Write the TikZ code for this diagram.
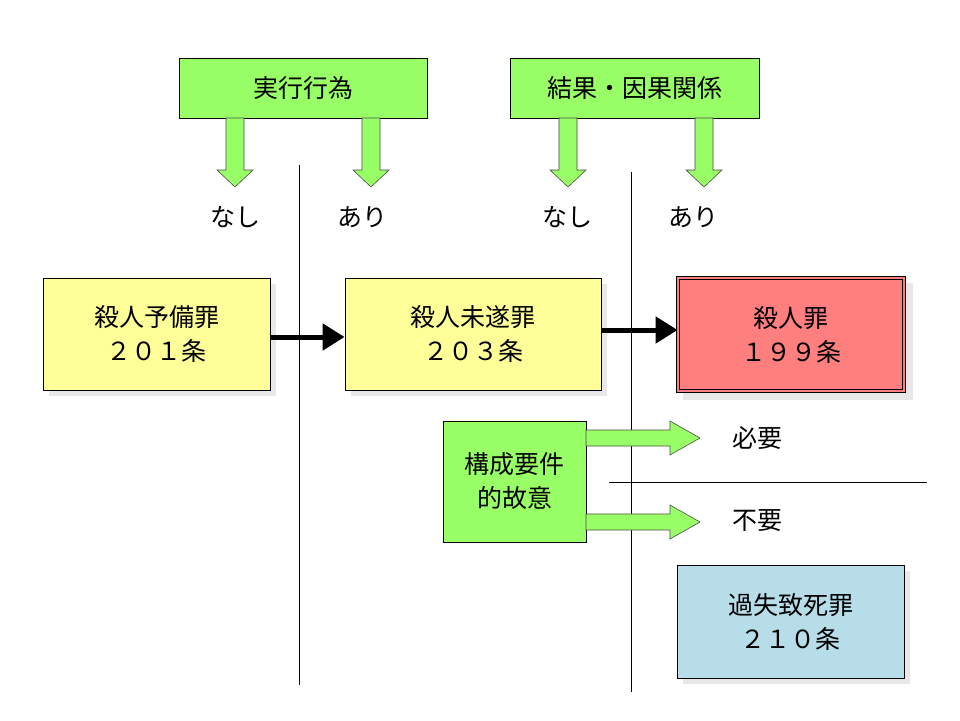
\documentclass[tikz,border=0pt]{standalone}
\usepackage{fontspec}
\setmainfont{Noto Sans CJK JP}
\usetikzlibrary{shapes.arrows,arrows.meta}
\definecolor{gr}{HTML}{99FF66}
\definecolor{ye}{HTML}{FFFF99}
\definecolor{rd}{HTML}{FF7F7F}
\definecolor{bl}{HTML}{B7DDE8}
\definecolor{sh}{HTML}{E8E8E8}
\begin{document}
\begin{tikzpicture}[x=1pt,y=-1pt,
 box/.style={draw=black,line width=0.8pt,align=center,font=\fontsize{25}{34}\selectfont},
 lbl/.style={font=\fontsize{25}{30}\selectfont},
 blk/.style={draw=black!70,fill=gr,line width=0.6pt},
 vl/.style={line width=0.7pt}]
\useasboundingbox (0,0) rectangle (960,720);
\fill[white] (0,0) rectangle (960,720);
% shadows
\fill[sh] (49,284) rectangle (276,396);
\fill[sh] (351,284) rectangle (607,396);
\fill[sh] (683,283) rectangle (913,400);
\fill[sh] (683,571) rectangle (910,684);
% top boxes
\node[box,fill=gr,minimum width=248pt,minimum height=60pt] (a) at (303,88) {実行行為};
\node[box,fill=gr,minimum width=249pt,minimum height=60pt] (b) at (634.5,88) {結果・因果関係};
% down arrows
\foreach \x/\n in {235/d1,371/d2,568/d3,704/d4}{
 \draw[blk] (\x-9,118) -- (\x+9,118) -- (\x+9,170) -- (\x+18,170) -- (\x,187) -- (\x-18,170) -- (\x-9,170) -- cycle;
}
\node[lbl] (n1) at (235,217) {なし};
\node[lbl] (n2) at (362,217) {あり};
\node[lbl] (n3) at (567,217) {なし};
\node[lbl] (n4) at (693,217) {あり};
% vertical lines
\coordinate (v1a) at (299,165); \coordinate (v1b) at (299,685);
\coordinate (v2a) at (631,172); \coordinate (v2b) at (631,692);
\draw[vl] (v1a) -- (v1b);
\draw[vl] (v2a) -- (v2b);
% main boxes
\node[box,fill=ye,minimum width=227pt,minimum height=112pt] (p) at (156.5,334) {殺人予備罪\\２０１条};
\node[box,fill=ye,minimum width=256pt,minimum height=112pt] (q) at (473,334) {殺人未遂罪\\２０３条};
\node[box,fill=rd,double=rd,double distance=2.5pt,line width=0.9pt,minimum width=226pt,minimum height=113pt] (r) at (791,334.5) {殺人罪\\１９９条};
\draw[line width=5pt,-{Triangle[length=22pt,width=26pt]}] (p.east |- 0,337) -- (q.west |- 0,337);
\draw[line width=5pt,-{Triangle[length=22pt,width=26pt]}] (q.east |- 0,330) -- (r.west |- 0,330);
% intent box
\node[box,fill=gr,minimum width=143pt,minimum height=121pt] (k) at (514.5,481.5) {構成要件\\的故意};
\foreach \y in {438,522}{
 \draw[blk] (586,\y-8) -- (670,\y-8) -- (670,\y-17) -- (700,\y) -- (670,\y+17) -- (670,\y+8) -- (586,\y+8) -- cycle;
}
\node[lbl] (m1) at (757,438) {必要};
\node[lbl] (m2) at (757,521) {不要};
\coordinate (h1) at (609,482); \coordinate (h2) at (927,482);
\draw[line width=0.6pt] (h1) -- (h2);
\node[box,fill=bl,minimum width=227pt,minimum height=113pt] (s) at (790.5,621.5) {過失致死罪\\２１０条};
\end{tikzpicture}
\end{document}
